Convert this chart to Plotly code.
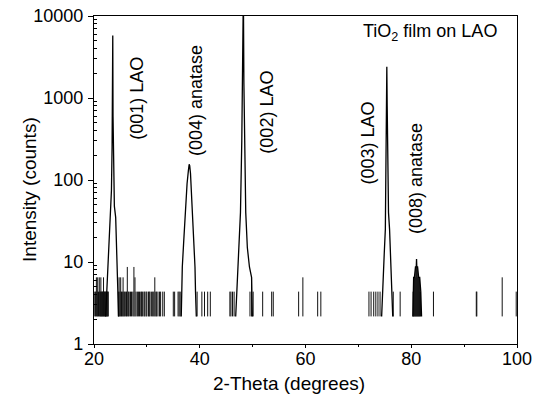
import plotly.graph_objects as go

# ---------------- data ----------------
# one count in this scan corresponds to ~2.17 intensity units; zero-count
# points vanish on the log axis, so isolated counts appear as vertical spikes
noise_base = 2.17

noise_x = [20.15, 20.3, 20.45, 20.6, 20.7, 20.85, 21.0, 21.1, 21.25, 21.3, 21.4, 21.5,
           21.6, 21.7, 21.8, 21.9, 22.0, 22.1, 22.2, 22.3, 22.4, 22.5, 22.6, 22.7,
           24.6, 24.75, 24.9, 25.05, 25.2, 25.35, 25.5, 25.65, 25.8, 26.0, 26.15, 26.3,
           26.5, 26.65, 26.9, 27.1, 27.35, 27.55, 27.75, 27.95, 28.2, 28.4, 28.6, 28.85,
           29.0, 29.2, 29.45, 29.6, 29.85, 30.0, 30.3, 30.45, 30.6, 30.9, 31.1, 31.3,
           31.5, 31.7, 31.85, 32.1, 32.4, 32.6, 33.0, 33.3,
           35.0, 35.25, 35.9, 36.1, 36.3,
           39.5, 40.4, 40.9, 41.5, 42.0,
           45.7, 45.9, 46.2, 46.5,
           49.5, 49.8, 50.1,
           51.9, 53.6, 53.9,
           58.7, 59.5, 62.3, 62.9,
           72.0, 72.4, 72.9, 73.3, 73.7, 74.1,
           76.6, 77.9,
           80.35, 80.45, 80.55, 80.65, 80.75, 80.85, 80.95, 81.05, 81.15, 81.25, 81.35,
           81.45, 81.55, 81.65, 81.75,
           84.2, 92.3, 92.4, 97.2, 99.85]
noise_top = [4.35, 4.35, 6.5, 4.35, 6.5, 4.35, 6.5, 4.35, 4.35, 6.5, 4.35, 4.35,
             4.35, 4.35, 6.5, 4.35, 4.35, 4.35, 4.35, 4.35, 4.35, 4.35, 4.35, 4.35,
             4.35, 6.5, 4.35, 6.5, 4.35, 4.35, 6.5, 4.35, 4.35, 4.35, 4.35, 8.7,
             4.35, 4.35, 4.35, 4.35, 4.35, 8.7, 6.5, 4.35, 4.35, 4.35, 4.35, 4.35,
             4.35, 4.35, 4.35, 4.35, 4.35, 4.35, 4.35, 4.35, 4.35, 4.35, 4.35, 4.35,
             6.5, 4.35, 4.35, 4.35, 4.35, 4.35, 4.35, 4.35,
             4.35, 4.35, 4.35, 4.35, 4.35,
             4.35, 4.35, 4.35, 4.35, 4.35,
             4.35, 4.35, 4.35, 4.35,
             4.35, 6.5, 4.35,
             4.35, 4.35, 4.35,
             4.35, 6.5, 4.35, 4.35,
             4.35, 4.35, 4.35, 4.35, 4.35, 4.35,
             4.35, 4.35,
             4.35, 6.5, 6.5, 6.5, 6.5, 8.7, 8.7, 8.7, 8.7, 6.5, 6.5,
             6.5, 6.5, 4.35, 4.35,
             4.35, 4.35, 4.35, 6.5, 4.35]

# (001) LAO
peak1_x = [22.2, 22.55, 22.85, 23.1, 23.3, 23.42, 23.5, 23.55, 23.6, 23.7, 23.85, 24.1, 24.35, 24.55, 24.65]
peak1_y = [2.17, 6.5, 13, 30, 75, 250, 3500, 5800, 600, 200, 48, 35, 10, 6.5, 2.17]
# (004) anatase
peak2_x = [36.5, 36.7, 36.95, 37.3, 37.6, 37.85, 38.0, 38.1, 38.25, 38.5, 38.75, 39.0, 39.1, 39.2, 39.35]
peak2_y = [2.17, 8.7, 17, 50, 90, 130, 155, 150, 120, 60, 25, 13, 8.7, 4.35, 2.17]
# (002) LAO
peak3_x = [46.8, 47.1, 47.4, 47.7, 47.95, 48.1, 48.2, 48.25, 48.35, 48.5, 48.7, 49.0, 49.4, 49.8, 49.95]
peak3_y = [2.17, 6.5, 13, 40, 300, 3000, 15000, 20000, 1500, 130, 40, 15, 8.7, 6.5, 2.17]
# (003) LAO
peak4_x = [74.4, 74.65, 74.9, 75.1, 75.25, 75.32, 75.38, 75.45, 75.55, 75.7, 75.9, 76.15, 76.35, 76.5]
peak4_y = [2.17, 6.5, 13, 25, 150, 1500, 2400, 800, 200, 40, 25, 8.7, 4.35, 2.17]
# (008) anatase
peak5_x = [80.3, 80.45, 80.6, 80.8, 80.95, 81.0, 81.05, 81.2, 81.4, 81.6, 81.8, 81.95]
peak5_y = [2.17, 6.5, 6.5, 8.7, 8.7, 10.9, 8.7, 8.7, 6.5, 6.5, 4.35, 2.17]

x_ticks = [20, 40, 60, 80, 100]
x_minor_ticks = [30, 50, 70, 90]
y_ticks = [1, 10, 100, 1000, 10000]
y_tick_labels = ["1", "10", "100", "1000", "10000"]

labels = ["(001) LAO", "(004) anatase", "(002) LAO", "(003) LAO", "(008) anatase"]
x_title = "2-Theta (degrees)"
y_title = "Intensity (counts)"

# ---------------- build the figure ----------------
sx, sy = [], []
for xv, top in zip(noise_x, noise_top):
    sx += [xv, xv, None]
    sy += [noise_base, top, None]

px, py = [], []
for xs, ys in [(peak1_x, peak1_y), (peak2_x, peak2_y), (peak3_x, peak3_y),
               (peak4_x, peak4_y), (peak5_x, peak5_y)]:
    px += list(xs) + [None]
    py += list(ys) + [None]

y_minor_ticks = [m * d for d in [1, 10, 100, 1000] for m in range(2, 10)]

FONT = "Liberation Sans, Arial, sans-serif"

fig = go.Figure()
fig.add_trace(go.Scatter(x=sx, y=sy, mode="lines",
                         line=dict(color="#111111", width=1), hoverinfo="skip",
                         showlegend=False))
fig.add_trace(go.Scatter(x=px, y=py, mode="lines",
                         line=dict(color="#000000", width=1.3), hoverinfo="skip",
                         showlegend=False))

label_pos = [(28.07, 3.0), (39.4, 2.97), (52.66, 2.83), (71.9, 2.45), (81.03, 2.02)]
for txt, (ax_, ay_) in zip(labels, label_pos):
    fig.add_annotation(x=ax_, y=ay_, text=txt, textangle=-90, showarrow=False,
                       font=dict(family=FONT, size=18, color="black"),
                       xanchor="center", yanchor="middle")

fig.add_annotation(x=96.6, y=3.8, text="TiO<sub>2</sub> film on LAO", showarrow=False,
                   xanchor="right", yanchor="middle",
                   font=dict(family=FONT, size=18, color="black"))

# axis titles placed as annotations (paper coords relative to plot area)
fig.add_annotation(xref="paper", yref="paper", x=0.461, y=-0.119, text=x_title,
                   showarrow=False, xanchor="center", yanchor="middle",
                   font=dict(family=FONT, size=19, color="black"))
fig.add_annotation(xref="paper", yref="paper", x=-0.151, y=0.47, text=y_title,
                   textangle=-90, showarrow=False, xanchor="center", yanchor="middle",
                   font=dict(family=FONT, size=19, color="black"))

fig.update_layout(
    width=542, height=399,
    margin=dict(l=94, r=25, t=16, b=55, autoexpand=False),
    paper_bgcolor="white", plot_bgcolor="white",
    font=dict(family=FONT, size=18, color="black"),
    showlegend=False,
)
fig.update_xaxes(
    range=[20, 100], tickvals=x_ticks, ticks="outside", ticklen=3, tickwidth=1,
    tickcolor="black", showline=True, linecolor="black", linewidth=1.3, mirror=True,
    showgrid=False, zeroline=False, automargin=False, ticklabelstandoff=-5,
    ticklabeloverflow="allow",
    minor=dict(tickvals=x_minor_ticks, ticks="outside", ticklen=2, tickcolor="black",
               showgrid=False),
    tickfont=dict(size=18),
)
fig.update_yaxes(
    type="log", range=[0, 4], tickvals=y_ticks, ticktext=y_tick_labels,
    ticks="outside", ticklen=5, tickwidth=1, tickcolor="black",
    showline=True, linecolor="black", linewidth=1.3, mirror=True,
    showgrid=False, zeroline=False, automargin=False, ticklabelstandoff=1,
    ticklabeloverflow="allow",
    minor=dict(tickvals=y_minor_ticks, ticks="inside", ticklen=3, tickcolor="black",
               showgrid=False),
    tickfont=dict(size=18),
)

# remove the default 8 px page margin so the figure sits at the window's corner
fig.write_html("out.html",
               config={"displayModeBar": False},
               post_script="document.body.style.margin='0';document.body.style.overflow='hidden';")
